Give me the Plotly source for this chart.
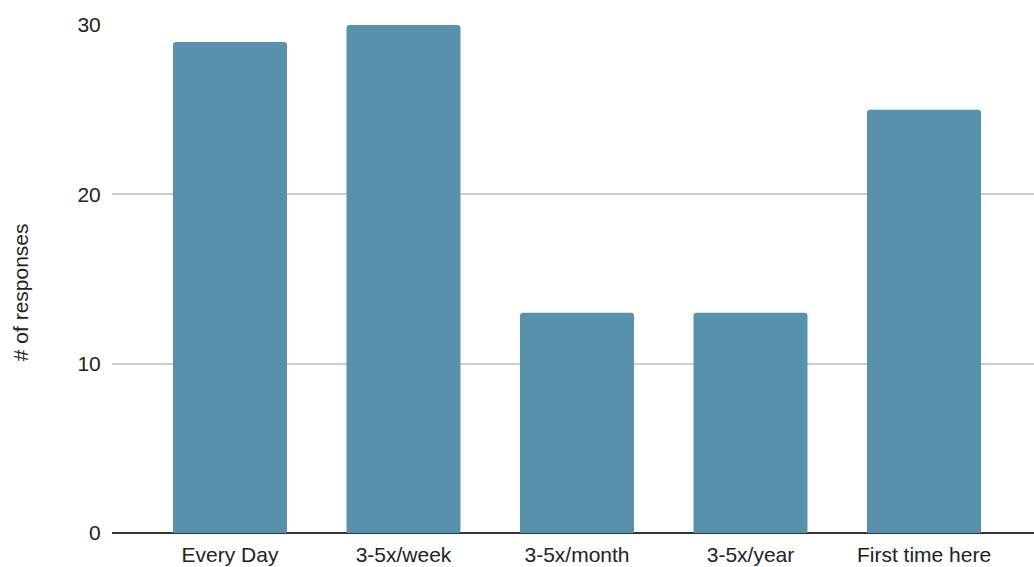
import plotly.graph_objects as go

categories = ["Every Day", "3-5x/week", "3-5x/month", "3-5x/year", "First time here"]
responses = [29, 30, 13, 13, 25]
y_ticks = [0, 10, 20, 30]
y_title = "# of responses"

fig = go.Figure(go.Bar(
    x=list(range(len(categories))),
    y=responses,
    marker=dict(color="#5891ad", cornerradius=3, line=dict(width=0)),
    width=0.657,
))

fig.update_layout(
    width=1034, height=567,
    margin=dict(l=112, r=0, t=25, b=34, autoexpand=False),
    paper_bgcolor="white", plot_bgcolor="white",
    font=dict(family="Liberation Sans, Arial", size=21, color="#222222"),
    showlegend=False,
    xaxis=dict(
        range=[-0.68, 4.634],
        tickmode="array",
        tickvals=list(range(len(categories))),
        ticktext=categories,
        showgrid=False,
        zeroline=False,
        ticks="outside", ticklen=3, tickcolor="rgba(0,0,0,0)",
        showline=False,
        automargin=False,
    ),
    yaxis=dict(
        range=[0, 30],
        tickvals=y_ticks,
        showgrid=True, gridcolor="#cccccc", gridwidth=1.5,
        zeroline=True, zerolinecolor="#333333", zerolinewidth=2,
        ticks="outside", ticklen=6, tickcolor="rgba(0,0,0,0)",
        automargin=False,
    ),
    annotations=[dict(
        text=y_title, textangle=-90, showarrow=False,
        xref="paper", yref="paper", x=0, y=0.474,
        xanchor="center", yanchor="middle", xshift=-92,
        font=dict(size=21, color="#222222"),
    )],
)

fig.write_html(
    "out.html",
    config={"displayModeBar": False},
    post_script="document.body.style.margin='0';document.body.style.overflow='hidden';",
)
